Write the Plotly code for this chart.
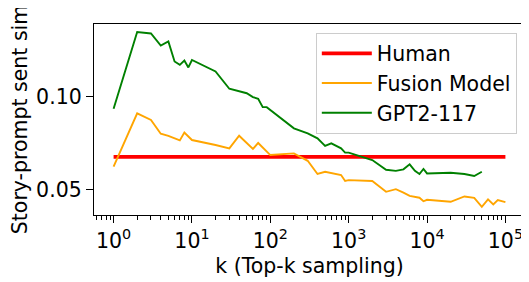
import plotly.graph_objects as go

# ---- data ----
human_k = [1, 100000]
human_v = [0.0675, 0.0675]

fusion_k = [1, 2, 3, 4, 5, 7, 8, 10, 20, 30, 40, 60, 70, 100, 200, 300, 400, 500, 800, 900,
            1000, 2000, 3000, 4000, 5000, 6000, 8000, 9000, 10000, 20000, 30000, 40000,
            50000, 60000, 70000, 80000, 100000]
fusion_v = [0.0622, 0.0910, 0.0874, 0.0800, 0.0788, 0.0764, 0.0806, 0.0766, 0.0739, 0.0721,
            0.0789, 0.0718, 0.0750, 0.0685, 0.0694, 0.0654, 0.0583, 0.0595, 0.0577, 0.0545,
            0.0550, 0.0545, 0.0487, 0.0501, 0.0483, 0.0465, 0.0455, 0.0436, 0.0444, 0.0433,
            0.0462, 0.0454, 0.0406, 0.0446, 0.0419, 0.0442, 0.0431]

gpt2_k = [1, 2, 3, 4, 5, 6, 7, 8, 9, 10, 20, 30, 50, 60, 70, 80, 90, 200, 300, 400, 500, 600,
          800, 900, 1000, 2000, 3000, 4000, 5000, 6000, 7000, 8000, 9000, 10000, 20000, 30000,
          40000, 50000]
gpt2_v = [0.0934, 0.1348, 0.1340, 0.1275, 0.1297, 0.1189, 0.1171, 0.1194, 0.1157, 0.1197,
          0.1135, 0.1042, 0.1018, 0.0997, 0.0988, 0.0943, 0.0943, 0.0829, 0.0802, 0.0775,
          0.0734, 0.0748, 0.0721, 0.0698, 0.0698, 0.0658, 0.0606, 0.0600, 0.0608, 0.0635,
          0.0600, 0.0583, 0.0610, 0.0586, 0.0590, 0.0583, 0.0572, 0.0595]

x_major_vals = [1, 10, 100, 1000, 10000, 100000]
x_major_text = ["10<sup>0</sup>", "10<sup>1</sup>", "10<sup>2</sup>", "10<sup>3</sup>",
                "10<sup>4</sup>", "10<sup>5</sup>"]
y_tick_vals = [0.05, 0.10]
y_tick_text = ["0.05", "0.10"]

x_title = "k (Top-k sampling)"
y_title = "Story-prompt sent sim"

# minor tick positions for the log axis
x_minor_vals = [m * 10 ** e for e in range(-1, 5) for m in range(2, 10)]
x_minor_vals = [v for v in x_minor_vals if v > 0.55]

FONT = "DejaVu Sans"
FS = 20.5

fig = go.Figure()
fig.add_trace(go.Scatter(x=human_k, y=human_v, mode="lines", name="Human",
                         line=dict(color="#ff0000", width=3.6)))
fig.add_trace(go.Scatter(x=fusion_k, y=fusion_v, mode="lines", name="Fusion Model",
                         line=dict(color="#ffa500", width=1.9)))
fig.add_trace(go.Scatter(x=gpt2_k, y=gpt2_v, mode="lines", name="GPT2-117",
                         line=dict(color="#008000", width=1.9)))

# the page body adds an 8px offset, so the figure is 8px smaller and margins shifted
fig.update_layout(
    width=521, height=274,
    margin=dict(l=86, r=4, t=16, b=67),
    paper_bgcolor="white", plot_bgcolor="white",
    font=dict(family=FONT, size=FS, color="black"),
    showlegend=True,
    legend=dict(x=0.981, y=0.955, xanchor="right", yanchor="top",
                bgcolor="rgba(255,255,255,0.85)", bordercolor="#cccccc", borderwidth=1,
                font=dict(family=FONT, size=FS, color="black"),
                itemwidth=50, tracegroupgap=0),
)

fig.update_xaxes(
    type="log", range=[-0.25, 5.25], automargin=False,
    tickmode="array", tickvals=x_major_vals, ticktext=x_major_text,
    ticks="outside", ticklen=7, tickwidth=1.2, tickcolor="black",
    showline=True, linecolor="black", linewidth=1.3, mirror=True,
    showgrid=False, zeroline=False,
    minor=dict(tickmode="array", tickvals=x_minor_vals, ticks="outside",
               ticklen=4, tickwidth=1, tickcolor="black", showgrid=False),
    title=dict(text=x_title, font=dict(family=FONT, size=FS), standoff=6),
    tickfont=dict(family=FONT, size=FS),
)
fig.update_yaxes(
    range=[0.0362, 0.1391], automargin=False,
    tickmode="array", tickvals=y_tick_vals, ticktext=y_tick_text,
    ticks="outside", ticklen=7, tickwidth=1.2, tickcolor="black",
    showline=True, linecolor="black", linewidth=1.3, mirror=True,
    showgrid=False, zeroline=False,
    title=dict(text=y_title, font=dict(family=FONT, size=FS), standoff=8),
    tickfont=dict(family=FONT, size=FS),
)

fig.write_html("out.html")
